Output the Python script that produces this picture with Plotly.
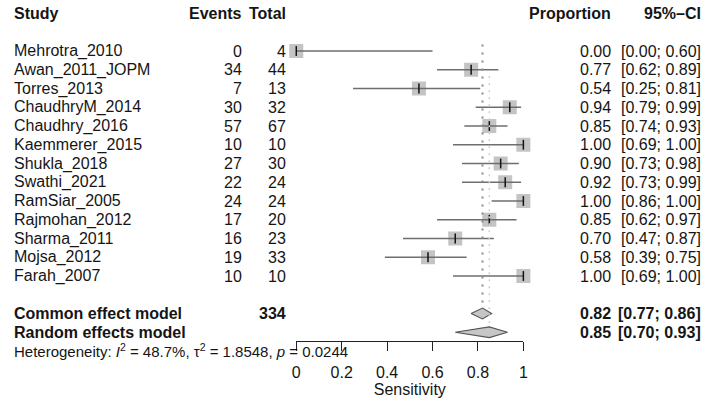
import plotly.graph_objects as go

studies = ["Mehrotra_2010", "Awan_2011_JOPM", "Torres_2013", "ChaudhryM_2014",
           "Chaudhry_2016", "Kaemmerer_2015", "Shukla_2018", "Swathi_2021",
           "RamSiar_2005", "Rajmohan_2012", "Sharma_2011", "Mojsa_2012", "Farah_2007"]
events = [0, 34, 7, 30, 57, 10, 27, 22, 24, 17, 16, 19, 10]
totals = [4, 44, 13, 32, 67, 10, 30, 24, 24, 20, 23, 33, 10]
prop = [0.00, 0.77, 0.54, 0.94, 0.85, 1.00, 0.90, 0.92, 1.00, 0.85, 0.70, 0.58, 1.00]
ci_lo = [0.00, 0.62, 0.25, 0.79, 0.74, 0.69, 0.73, 0.73, 0.86, 0.62, 0.47, 0.39, 0.69]
ci_hi = [0.60, 0.89, 0.81, 0.99, 0.93, 1.00, 0.98, 0.99, 1.00, 0.97, 0.87, 0.75, 1.00]

common = {"label": "Common effect model", "total": 334, "est": 0.82, "lo": 0.77, "hi": 0.86}
random_ = {"label": "Random effects model", "est": 0.85, "lo": 0.70, "hi": 0.93}
het_text = "Heterogeneity: <i>I</i><sup>2</sup> = 48.7%, τ<sup>2</sup> = 1.8548, <i>p</i> = 0.0244"
tick_vals = [0, 0.2, 0.4, 0.6, 0.8, 1]
tick_text = ["0", "0.2", "0.4", "0.6", "0.8", "1"]
x_title = "Sensitivity"

W, H = 715, 403
FONT = "Liberation Sans, Arial, Helvetica, sans-serif"
TXT = "#151515"

n = len(studies)
rows = list(range(n))
row_common = n + 1
row_random = n + 2
row_het = n + 3
row_head = -2

fig = go.Figure()

# squares
fig.add_trace(go.Scatter(x=prop, y=rows, mode="markers",
                         marker=dict(symbol="square", size=14, color="#c4c4c4",
                                     line=dict(width=0)),
                         showlegend=False, cliponaxis=False))
# CI lines over squares
for i in rows:
    fig.add_trace(go.Scatter(x=[ci_lo[i], ci_hi[i]], y=[i, i], mode="lines",
                             line=dict(color="#6e6e6e", width=1.6),
                             hoverinfo="skip", showlegend=False, cliponaxis=False))
# point ticks
fig.add_trace(go.Scatter(x=prop, y=rows, mode="markers",
                         marker=dict(symbol="line-ns", size=7,
                                     line=dict(width=1.5, color="#111")),
                         showlegend=False, cliponaxis=False))

# vertical reference lines
fig.add_shape(type="line", xref="x", yref="y", x0=common["est"], x1=common["est"],
              y0=-0.35, y1=row_common - 0.45,
              line=dict(color="#8a8a8a", width=2, dash="2px,6px"))
fig.add_shape(type="line", xref="x", yref="y", x0=random_["est"], x1=random_["est"],
              y0=1.35, y1=row_random - 0.3,
              line=dict(color="#cfcfcf", width=1.5, dash="2px,5px"))

# diamonds
hh = 0.29
for m, r in ((common, row_common), (random_, row_random)):
    fig.add_trace(go.Scatter(x=[m["lo"], m["est"], m["hi"], m["est"], m["lo"]],
                             y=[r, r - hh, r, r + hh, r], mode="lines", fill="toself",
                             fillcolor="#c6c6c6", line=dict(color="#555", width=1.2),
                             showlegend=False, hoverinfo="skip", cliponaxis=False))

ann = []
def txt(x, y, s, anchor="left", size=16, bold=False):
    if bold:
        s = "<b>" + s + "</b>"
    ann.append(dict(xref="paper", yref="y", x=x / W, y=y, text=s, showarrow=False,
                    xanchor=anchor, yanchor="middle",
                    font=dict(family=FONT, size=size, color=TXT)))

# headers
txt(8, row_head, "Study", bold=True)
txt(243, row_head, "Events", "right", bold=True)
txt(288, row_head, "Total", "right", bold=True)
txt(617, row_head, "Proportion", "right", bold=True)
txt(708, row_head, "95%–CI", "right", bold=True)

for i in rows:
    txt(8, i, studies[i])
    txt(243, i, str(events[i]), "right")
    txt(288, i, str(totals[i]), "right")
    txt(617, i, f"{prop[i]:.2f}", "right")
    txt(708, i, f"[{ci_lo[i]:.2f}; {ci_hi[i]:.2f}]", "right")

txt(8, row_common, common["label"], bold=True)
txt(288, row_common, str(common["total"]), "right", bold=True)
txt(617, row_common, f"{common['est']:.2f}", "right", bold=True)
txt(708, row_common, f"[{common['lo']:.2f}; {common['hi']:.2f}]", "right", bold=True)
txt(8, row_random, random_["label"], bold=True)
txt(617, row_random, f"{random_['est']:.2f}", "right", bold=True)
txt(708, row_random, f"[{random_['lo']:.2f}; {random_['hi']:.2f}]", "right", bold=True)
txt(8, row_het - 0.02, het_text, size=15)

row_px0 = 51
row_step = 18.75
y_top = -row_px0 / row_step
y_bot = (H - row_px0) / row_step

fig.update_layout(
    width=W, height=H, margin=dict(l=0, r=0, t=0, b=0),
    paper_bgcolor="white", plot_bgcolor="white",
    annotations=ann,
    xaxis=dict(domain=[296 / W, 526 / W], range=[0, 1], anchor="free",
               position=(H - 341) / H, showline=True, linecolor="#222", linewidth=1,
               ticks="outside", ticklen=9, tickcolor="#222", tickwidth=1,
               tickvals=tick_vals, ticktext=tick_text, showgrid=False, zeroline=False,
               ticklabelstandoff=8,
               tickfont=dict(family=FONT, size=16, color=TXT),
               title=dict(text=x_title, font=dict(family=FONT, size=16, color=TXT),
                          standoff=0)),
    yaxis=dict(domain=[0, 1], range=[y_bot, y_top], visible=False),
)

fig.write_html("out.html")
